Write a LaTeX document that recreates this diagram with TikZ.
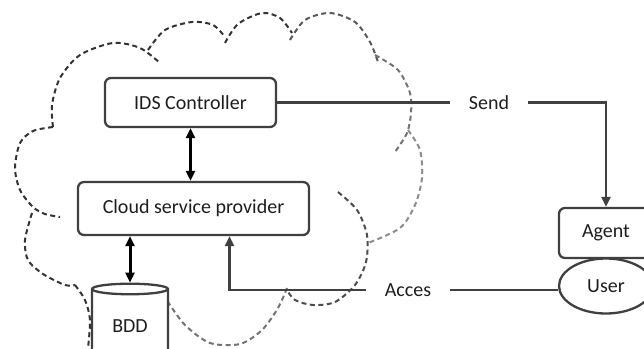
\documentclass[tikz,border=0pt]{standalone}
\usepackage{fontspec}
\setmainfont{Carlito}
\usetikzlibrary{arrows.meta,shapes.geometric}
\definecolor{linegray}{HTML}{404040}
\definecolor{textgray}{HTML}{1e1e1e}
\tikzset{
  box/.style={draw=linegray,line width=2.3pt,rounded corners=6pt,fill=white,
    text=textgray,font=\fontsize{20pt}{24pt}\selectfont},
  label/.style={inner xsep=19pt,text=textgray,font=\fontsize{20pt}{24pt}\selectfont},
  cloud/.style={draw=black!80,dash pattern=on 5pt off 3.5pt,line width=2pt},
  link/.style={draw=linegray,line width=2.2pt},
  tip/.style={-{Triangle[length=10pt,width=9pt]}},
  dbl/.style={{Triangle[length=10pt,width=9pt]}-{Triangle[length=10pt,width=9pt]},line width=3pt}
}
\begin{document}
\begin{tikzpicture}[x=1pt,y=-1pt]
      \useasboundingbox (0,0) rectangle (644,348);
      \clip (0,0) rectangle (644,348);
      \begin{scope}[cloud]
        \draw plot[smooth] coordinates {(53,127) (52,105) (60,78) (80,55) (113,43) (140,48) (160,63)};
        \draw plot[smooth] coordinates {(148,50) (165,30) (192,22) (213,25) (225,37)};
        \draw plot[smooth] coordinates {(225,43) (238,24) (262,13) (280,18) (292,33)};
        \draw[black!65] plot[smooth] coordinates {(290,40) (305,20) (330,13) (355,22) (370,42) (378,62)};
        \draw[black!55] plot[smooth] coordinates {(375,55) (398,70) (410,93) (411,113) (407,133) (395,152)};
        \draw[black!45] plot[smooth] coordinates {(408,130) (420,150) (422,178) (415,205) (400,228) (368,243)};
        \draw[black!70] plot[smooth] coordinates {(338,192) (357,210) (367,235) (366,262) (355,285) (335,302) (313,305) (295,300) (287,290)};
        \draw[black!55] plot[smooth] coordinates {(287,288) (278,308) (262,330) (240,344) (210,343) (185,325) (168,302)};
        \draw plot[smooth] coordinates {(75,285) (85,300) (90,320) (88,348)};
        \draw plot[smooth] coordinates {(53,127) (33,131) (20,143) (15,168) (20,190) (33,207) (45,214) (60,217)};
        \draw plot[smooth] coordinates {(32,213) (25,240) (28,260) (43,274) (65,285) (75,285)};
      \end{scope}
      \node[box,minimum width=171pt,minimum height=49pt] (ids) at (190.5,102.5) {IDS Controller};
      \node[box,minimum width=231pt,minimum height=53pt] (csp) at (193.5,208.5) {Cloud service provider};
      \node[box,rounded corners=0pt,cylinder,shape border rotate=90,aspect=0.25,
        minimum width=76pt,minimum height=76pt] (bdd) at (130,326) {BDD};
      \node[box,minimum width=94pt,minimum height=50pt] (agent) at (606,233) {Agent};
      \node[box,ellipse,rounded corners=0pt,minimum width=94pt,minimum height=55pt,inner sep=0pt] (user) at (606,286) {User};
      \node[label] (send) at (489,102.5) {Send};
      \node[label] (acces) at (408,290) {Acces};
      \begin{scope}[link]
        \draw (ids.east) -- (send.west);
        \draw[tip] (send.east) -| (agent.north);
        \draw[tip] (acces.west) -| ([xshift=36pt]csp.south);
        \draw (acces.east) -- (acces.east -| user.west);
      \end{scope}
      \draw[dbl] (ids.south) -- (ids.south |- csp.north);
      \draw[dbl] (bdd.top) -- (bdd.top |- csp.south);
    \end{tikzpicture}
\end{document}
